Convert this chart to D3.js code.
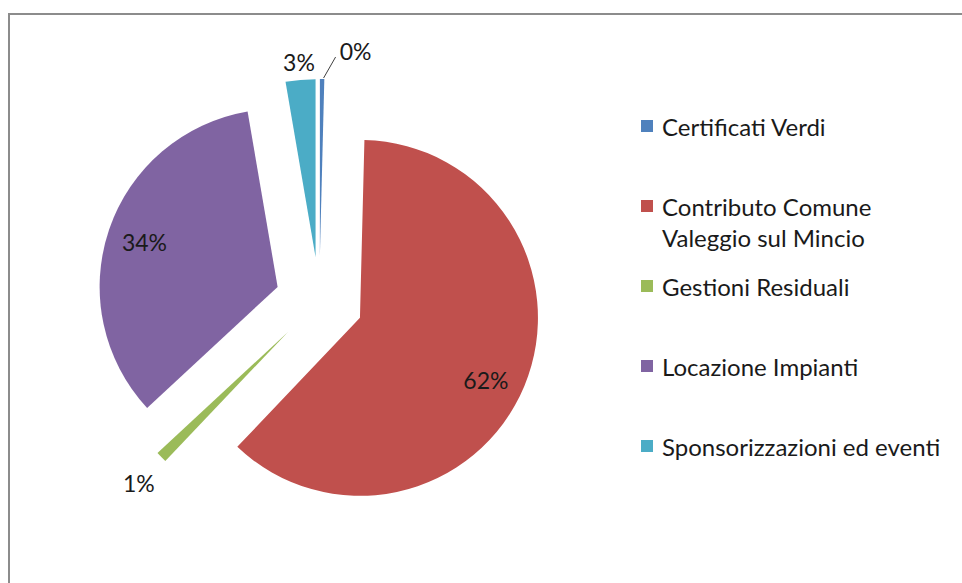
<!DOCTYPE html>
<html>
<head>
<meta charset="utf-8">
<script src="https://cdn.jsdelivr.net/npm/d3@7"></script>
<style>
  html, body { margin: 0; padding: 0; background: #fff; }
  svg { display: block; }
  text { font-family: Lato, "Open Sans", sans-serif; fill: #1a1a1a; }
</style>
</head>
<body>
<svg id="chart" width="962" height="583"></svg>
<script>
// ---- data ----
const categories = ["Certificati Verdi", "Contributo Comune Valeggio sul Mincio", "Gestioni Residuali", "Locazione Impianti", "Sponsorizzazioni ed eventi"];
const values = [0.4, 61.7, 1.0, 34.2, 2.7];
const labels = ["0%", "62%", "1%", "34%", "3%"];
const legendLines = [["Certificati Verdi"], ["Contributo Comune", "Valeggio sul Mincio"], ["Gestioni Residuali"], ["Locazione Impianti"], ["Sponsorizzazioni ed eventi"]];
const colors = ["#4F81BD", "#C0504D", "#9BBB59", "#8064A2", "#4BACC6"];

// ---- layout ----
const W = 962, H = 583;
const cx = 319.3, cy = 301, R = 178, explode = 44;
const svg = d3.select("#chart");

// frame
svg.append("path")
  .attr("d", `M9,${H + 5} L9,14 L${W + 5},14`)
  .attr("fill", "none").attr("stroke", "#8c8c8c").attr("stroke-width", 2);

const pie = d3.pie().sort(null).value(d => d)(values);
const arc = d3.arc().innerRadius(0).outerRadius(R);
const g = svg.append("g").attr("transform", `translate(${cx},${cy})`);

function polar(a, d) { return [Math.sin(a) * d, -Math.cos(a) * d]; }

pie.forEach((p, i) => {
  const mid = (p.startAngle + p.endAngle) / 2;
  const [ox, oy] = polar(mid, explode);
  g.append("path")
    .attr("d", arc(p))
    .attr("transform", `translate(${ox},${oy})`)
    .attr("fill", colors[i]);
});

// data labels
const labelFont = 23;
pie.forEach((p, i) => {
  const mid = (p.startAngle + p.endAngle) / 2;
  const [ox, oy] = polar(mid, explode);
  let lx, ly;
  const frac = p.value / d3.sum(values);
  if (frac > 0.1) {
    const dist = R * 0.79;
    [lx, ly] = polar(mid, dist);
    if (i === 1) { lx -= 4; ly += 8; }
  } else if (i === 0) {
    // leader line for the tiny slice
    const [ex, ey] = polar(mid, R);
    const sx = ex + 1.5, sy = ey - 1;
    g.append("line")
      .attr("x1", ox + sx).attr("y1", oy + sy)
      .attr("x2", ox + sx + 12).attr("y2", oy + sy - 21)
      .attr("stroke", "#404040").attr("stroke-width", 1);
    lx = sx + 32; ly = sy - 27;
  } else {
    const dist = i === 2 ? R + 33 : R + 18;
    [lx, ly] = polar(mid, dist);
    if (i === 2) { lx += 1; ly += 3; }
  }
  g.append("text")
    .attr("x", ox + lx).attr("y", oy + ly)
    .attr("text-anchor", "middle")
    .attr("dominant-baseline", "central")
    .style("font-size", labelFont + "px")
    .text(labels[i]);
});

// legend
const legendX = 641, legendY0 = 126, legendStep = 80, lineH = 31, sq = 12;
const lg = svg.append("g");
categories.forEach((c, i) => {
  const y = legendY0 + i * legendStep;
  lg.append("rect")
    .attr("x", legendX).attr("y", y - sq / 2)
    .attr("width", sq).attr("height", sq)
    .attr("fill", colors[i]);
  legendLines[i].forEach((t, j) => {
    lg.append("text")
      .attr("x", legendX + 21).attr("y", y + j * lineH)
      .attr("dominant-baseline", "central")
      .style("font-size", "24px")
      .text(t);
  });
});
</script>
</body>
</html>
